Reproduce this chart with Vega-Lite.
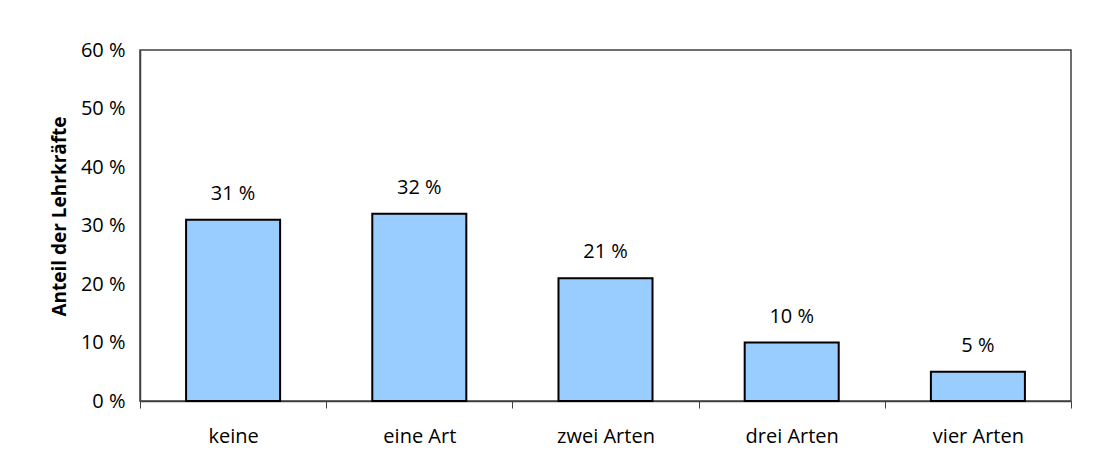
{
  "$schema": "https://vega.github.io/schema/vega-lite/v6.json",
  "width": 931,
  "height": 351,
  "autosize": "none",
  "padding": {"left": 140, "top": 50, "right": 23, "bottom": 54},
  "background": "white",
  "config": {
    "font": "Open Sans",
    "view": {"stroke": "#404040", "strokeWidth": 1.5}
  },
  "data": {
    "values": [
      {"kategorie": "keine", "anteil": 31, "label": "31 %"},
      {"kategorie": "eine Art", "anteil": 32, "label": "32 %"},
      {"kategorie": "zwei Arten", "anteil": 21, "label": "21 %"},
      {"kategorie": "drei Arten", "anteil": 10, "label": "10 %"},
      {"kategorie": "vier Arten", "anteil": 5, "label": "5 %"}
    ]
  },
  "encoding": {
    "x": {
      "field": "kategorie",
      "type": "nominal",
      "sort": null,
      "scale": {"paddingInner": 0, "paddingOuter": 0},
      "axis": {
        "title": null,
        "labelAngle": 0,
        "labelFontSize": 20,
        "labelColor": "black",
        "labelPadding": 18,
        "tickBand": "extent",
        "tickSize": 7,
        "tickColor": "#404040",
        "domainColor": "#404040",
        "domainWidth": 1.5,
        "grid": false
      }
    },
    "y": {
      "field": "anteil",
      "type": "quantitative",
      "scale": {"domain": [0, 60], "nice": false},
      "axis": {
        "title": "Anteil der Lehrkräfte",
        "titleFontSize": 19,
        "titleFontWeight": "bold",
        "titleColor": "black",
        "titlePadding": 11,
        "titleY": 166,
        "values": [0, 10, 20, 30, 40, 50, 60],
        "labelExpr": "datum.value + ' %'",
        "labelFontSize": 20,
        "labelColor": "black",
        "labelPadding": 15,
        "ticks": false,
        "grid": false,
        "domainColor": "#404040",
        "domainWidth": 1.5
      }
    }
  },
  "layer": [
    {
      "mark": {"type": "bar", "color": "#99CCFF", "stroke": "black", "strokeWidth": 2, "width": {"band": 0.505}}
    },
    {
      "mark": {"type": "text", "fontSize": 20, "color": "black", "baseline": "alphabetic", "dy": -20},
      "encoding": {"text": {"field": "label"}}
    }
  ]
}
